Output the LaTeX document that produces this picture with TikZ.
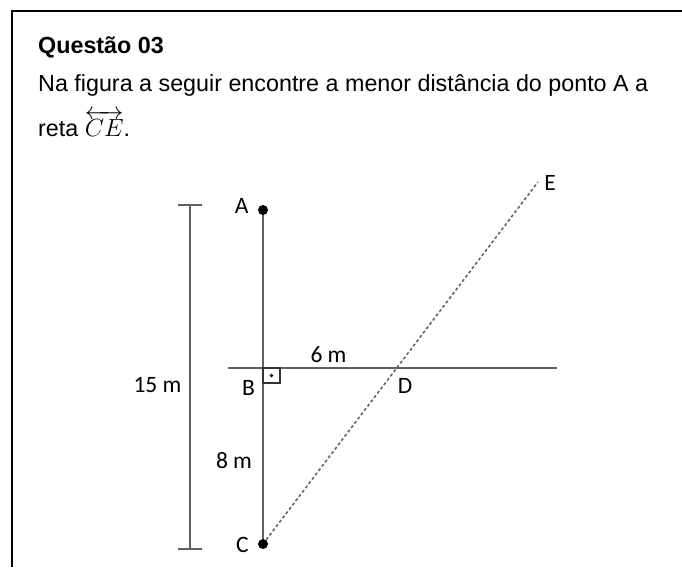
\documentclass[tikz,border=0pt]{standalone}
\usepackage{amsmath}
\usepackage{fontspec}
\setmainfont{Liberation Sans}
\newfontfamily\labfont{Carlito}
\begin{document}
\begin{tikzpicture}[x=1pt,y=-1pt,
  maintext/.style={anchor=base west,inner sep=0pt,font=\fontsize{23.3}{28}\selectfont},
  lab/.style={inner sep=0pt,font=\labfont\fontsize{23.5}{28}\selectfont},
  figline/.style={draw=black!62,line width=1.5pt},
  dashline/.style={draw=black!60,line width=1.6pt,dash pattern=on 3pt off 2.4pt},
  ptdot/.style={fill=black}]
\useasboundingbox (0,0) rectangle (682,567);
\fill[white] (0,0) rectangle (682,567);
% frame
\draw[line width=2.2pt] (12,567) -- (12,11) -- (682,11);
% text
\node[maintext,font=\bfseries\fontsize{23.3}{28}\selectfont] (title) at (38,53.3) {Questão 03};
\node[maintext] (line1) at (38,91.7) {Na figura a seguir encontre a menor distância do ponto A a};
\node[maintext] (line2) at (38,136.5) {reta $\overleftrightarrow{CE}$.};
% points
\coordinate (A) at (263,210);
\coordinate (B) at (263,368);
\coordinate (C) at (263,544);
\coordinate (D) at (396.7,368);
\coordinate (E) at (538,182);
\coordinate (H1) at (228,368);
\coordinate (H2) at (557,368);
\coordinate (T1) at (190,205);
\coordinate (T2) at (190,549);
\coordinate (T1a) at (177.5,205);
\coordinate (T1b) at (201.5,205);
\coordinate (T2a) at (177.5,549);
\coordinate (T2b) at (201.5,549);
% lines
\draw[figline] (A) -- (C);
\draw[figline] (H1) -- (H2);
\draw[dashline] (C) -- (E);
\draw[figline] (T1) -- (T2);
\draw[figline] (T1a) -- (T1b);
\draw[figline] (T2a) -- (T2b);
% right angle
\draw[draw=black!80,line width=1.2pt] (B) rectangle ++(17,15);
\fill (271.5,375.5) circle (1.9);
% dots
\fill[ptdot] (A) circle (5);
\fill[ptdot] (C) circle (5);
% labels
\node[lab] (lA) at (241.7,206.3) {A};
\node[lab] (lB) at (248.5,388) {B};
\node[lab] (lC) at (242.5,545) {C};
\node[lab] (lD) at (405,385.5) {D};
\node[lab] (lE) at (550,183) {E};
\node[lab] (l6) at (328.5,355) {6 m};
\node[lab] (l8) at (234,460.5) {8 m};
\node[lab] (l15) at (157.5,385.5) {15 m};
\end{tikzpicture}
\end{document}
